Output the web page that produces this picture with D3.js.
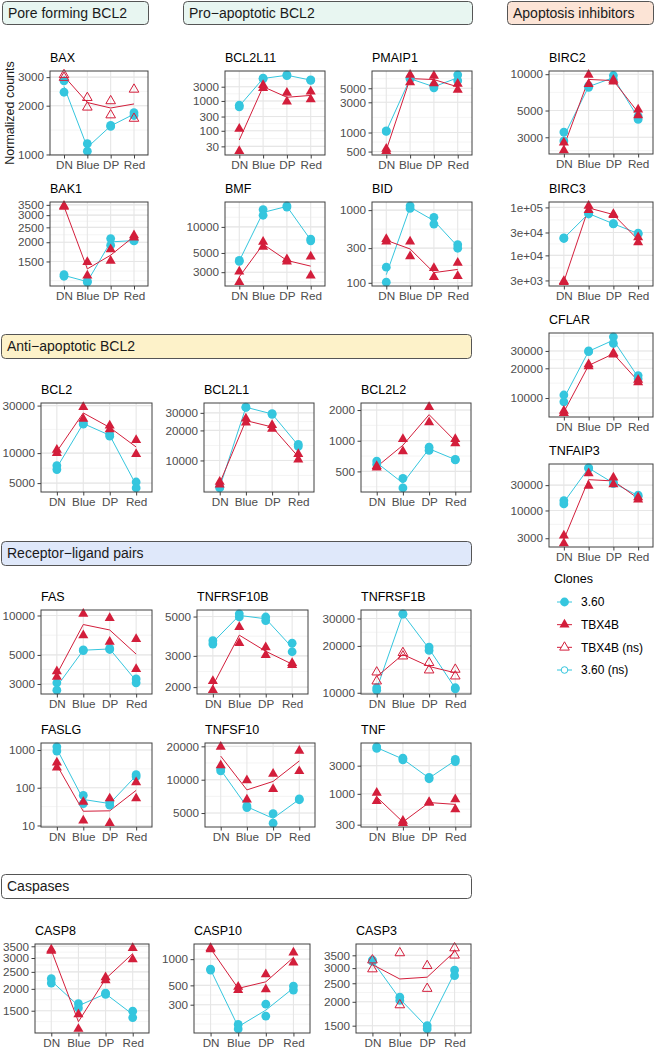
<!DOCTYPE html>
<html><head><meta charset="utf-8">
<script src="https://cdn.jsdelivr.net/npm/d3@7"></script>
<style>
body{margin:0;background:#fff}
svg{display:block;font-family:"Liberation Sans",Arial,Helvetica,sans-serif}
</style>
</head><body>
<svg id="chart" width="656" height="1049"></svg>
<script>
// ---------------- DATA ----------------
const stages = ["DN", "Blue", "DP", "Red"];
const cloneNames = ["3.60", "TBX4B"];
// values: two replicates per stage, order DN, DN, Blue, Blue, DP, DP, Red, Red
const BAX_360 = [2845, 2421, 1166, 1048, 1510, 1490, 1810, 1740];
const BAX_TBX = [3100, 2980, 2240, 1954, 2139, 1750, 2520, 1667];
const BAK1_360 = [1232, 1202, 1117, 1100, 2112, 1915, 2060, 2040];
const BAK1_TBX = [3450, 3400, 1485, 1213, 1796, 1513, 2218, 2143];
const BCL2L11_360 = [716, 628, 5810, 5500, 7500, 7000, 5090, 4900];
const BCL2L11_TBX = [117, 20.7, 3375, 2670, 1860, 946, 2054, 1140];
const BMF_360 = [4100, 4000, 15830, 13620, 17500, 16950, 7230, 6900];
const BMF_TBX = [3050, 2300, 6730, 5900, 4230, 3970, 4530, 2740];
const PMAIP1_360 = [1063, 1040, 7150, 7000, 5500, 5070, 8150, 6580];
const PMAIP1_TBX = [552, 507, 8150, 6200, 7870, 5970, 5850, 4720];
const BID_360 = [164, 102, 1146, 1055, 795, 643, 335, 299];
const BID_TBX = [401, 368, 368, 232, 159, 120, 188, 124];
const BIRC2_360 = [3316, 2796, 7780, 8000, 9750, 8995, 4217, 4500];
const BIRC2_TBX = [2710, 2344, 9890, 8280, 9000, 8700, 5090, 4570];
const BIRC3_360 = [23100, 22500, 72900, 76000, 45200, 46000, 28000, 29000];
const BIRC3_TBX = [2760, 2900, 108000, 88300, 72900, 69000, 23800, 18700];
const CFLAR_360 = [10730, 9160, 30000, 29500, 41700, 35700, 16900, 15640];
const CFLAR_TBX = [7410, 7020, 21900, 20900, 28600, 27500, 15270, 14450];
const TNFAIP3_360 = [15300, 13300, 63700, 62000, 33600, 32000, 19500, 18500];
const TNFAIP3_TBX = [3357, 2417, 49900, 29000, 41500, 31200, 17700, 16000];
const BCL2_360 = [7485, 6830, 20100, 19500, 15400, 14800, 5130, 4470];
const BCL2_TBX = [10780, 10000, 29000, 22070, 18930, 17300, 13540, 9800];
const BCL2L1_360 = [5450, 5300, 34300, 34000, 29500, 29000, 14500, 13800];
const BCL2L1_TBX = [6100, 5730, 26240, 24000, 22650, 20700, 11600, 10200];
const BCL2L2_360 = [631, 586, 428, 344, 865, 803, 655, 650];
const BCL2L2_TBX = [565, 545, 1038, 785, 2140, 1517, 1038, 945];
const FAS_360 = [3063, 2690, 5460, 5400, 5610, 5500, 3280, 3063];
const FAS_TBX = [3740, 3400, 10300, 7070, 9540, 6300, 6600, 3900];
const TNFRSF10B_360 = [3653, 3500, 5180, 4970, 4970, 4745, 3540, 3165];
const TNFRSF10B_TBX = [2165, 1922, 4355, 3540, 3350, 3030, 2730, 2660];
const TNFRSF1B_360 = [10770, 10390, 32150, 32000, 19650, 18700, 10770, 10600];
const TNFRSF1B_TBX = [13560, 11870, 18070, 17180, 15590, 13970, 14120, 12780];
const FASLG_360 = [1216, 940, 63, 38, 42, 34.5, 222, 197];
const FASLG_TBX = [466, 344, 42, 13.5, 52, 11.5, 140, 52];
const TNFSF10_360 = [12500, 12000, 5600, 5800, 4950, 4050, 6590, 6700];
const TNFSF10_TBX = [19800, 13460, 9880, 6620, 11300, 8230, 18240, 11930];
const TNF_360 = [6260, 5890, 4010, 3760, 1897, 1800, 3850, 3515];
const TNF_TBX = [1040, 752, 348, 318, 723, 700, 803, 546];
const CASP8_360 = [2285, 2159, 1645, 1556, 1888, 1860, 1491, 1370];
const CASP8_TBX = [3350, 3300, 1429, 1180, 2330, 2234, 3420, 2952];
const CASP10_360 = [766, 750, 178, 158, 304, 222, 491, 442];
const CASP10_TBX = [1341, 1300, 482, 442, 670, 450, 1193, 914];
const CASP3_360 = [3303, 3250, 2114, 2032, 1500, 1442, 2930, 2740];
const CASP3_TBX = [3303, 2966, 3600, 1924, 3085, 2345, 3820, 3500];

// tick values per gene
const BAX_ticks = [1000, 2000, 3000];
const BAK1_ticks = [1500, 2000, 2500, 3000, 3500];
const BCL2L11_ticks = [30, 100, 300, 1000, 3000];
const BMF_ticks = [3000, 5000, 10000];
const PMAIP1_ticks = [500, 1000, 3000, 5000];
const BID_ticks = [100, 300, 1000];
const BIRC2_ticks = [3000, 5000, 10000];
const BIRC3_ticks = [3000, 10000, 30000, 100000];
const BIRC3_tickLabels = ["3e+03", "1e+04", "3e+04", "1e+05"];
const CFLAR_ticks = [10000, 20000, 30000];
const TNFAIP3_ticks = [3000, 10000, 30000];
const BCL2_ticks = [5000, 10000, 30000];
const BCL2L1_ticks = [10000, 20000, 30000];
const BCL2L2_ticks = [500, 1000, 2000];
const FAS_ticks = [3000, 5000, 10000];
const TNFRSF10B_ticks = [2000, 3000, 5000];
const TNFRSF1B_ticks = [10000, 20000, 30000];
const FASLG_ticks = [10, 100, 1000];
const TNFSF10_ticks = [5000, 10000, 20000];
const TNF_ticks = [300, 1000, 3000];
const CASP8_ticks = [1500, 2000, 2500, 3000, 3500];
const CASP10_ticks = [300, 500, 1000];
const CASP3_ticks = [1500, 2000, 2500, 3000, 3500];

// genes where the TBX4B difference is not significant (open triangles)
const nsTBX = ["BAX", "TNFRSF1B", "CASP3"];

const sectionLabels = ["Pore forming BCL2", "Pro\u2212apoptotic BCL2", "Apoptosis inhibitors",
  "Anti\u2212apoptotic BCL2", "Receptor\u2212ligand pairs", "Caspases"];
const legendLabels = ["3.60", "TBX4B", "TBX4B (ns)", "3.60 (ns)"];

// ---------------- TABLE (built from arrays) ----------------
const geneData = {
  BAX: [BAX_360, BAX_TBX, BAX_ticks], BAK1: [BAK1_360, BAK1_TBX, BAK1_ticks],
  BCL2L11: [BCL2L11_360, BCL2L11_TBX, BCL2L11_ticks], BMF: [BMF_360, BMF_TBX, BMF_ticks],
  PMAIP1: [PMAIP1_360, PMAIP1_TBX, PMAIP1_ticks], BID: [BID_360, BID_TBX, BID_ticks],
  BIRC2: [BIRC2_360, BIRC2_TBX, BIRC2_ticks], BIRC3: [BIRC3_360, BIRC3_TBX, BIRC3_ticks, BIRC3_tickLabels],
  CFLAR: [CFLAR_360, CFLAR_TBX, CFLAR_ticks], TNFAIP3: [TNFAIP3_360, TNFAIP3_TBX, TNFAIP3_ticks],
  BCL2: [BCL2_360, BCL2_TBX, BCL2_ticks], BCL2L1: [BCL2L1_360, BCL2L1_TBX, BCL2L1_ticks],
  BCL2L2: [BCL2L2_360, BCL2L2_TBX, BCL2L2_ticks], FAS: [FAS_360, FAS_TBX, FAS_ticks],
  TNFRSF10B: [TNFRSF10B_360, TNFRSF10B_TBX, TNFRSF10B_ticks], TNFRSF1B: [TNFRSF1B_360, TNFRSF1B_TBX, TNFRSF1B_ticks],
  FASLG: [FASLG_360, FASLG_TBX, FASLG_ticks], TNFSF10: [TNFSF10_360, TNFSF10_TBX, TNFSF10_ticks],
  TNF: [TNF_360, TNF_TBX, TNF_ticks], CASP8: [CASP8_360, CASP8_TBX, CASP8_ticks],
  CASP10: [CASP10_360, CASP10_TBX, CASP10_ticks], CASP3: [CASP3_360, CASP3_TBX, CASP3_ticks]
};

// ---------------- LAYOUT (positions only) ----------------
const panels = [
  ["BAX", 50, 148, 71, 155], ["BAK1", 50, 148, 202, 286],
  ["BCL2L11", 225, 325, 71, 155], ["BMF", 225, 325, 202, 286],
  ["PMAIP1", 372, 472, 71, 155], ["BID", 372, 472, 202, 286],
  ["BIRC2", 549, 653, 71, 154], ["BIRC3", 549, 653, 202, 286],
  ["CFLAR", 549, 653, 333, 417], ["TNFAIP3", 549, 653, 464, 547],
  ["BCL2", 41, 152, 403, 492], ["BCL2L1", 204, 314, 403, 492], ["BCL2L2", 361, 471, 403, 492],
  ["FAS", 41, 152, 610, 694], ["TNFRSF10B", 197, 308, 610, 694], ["TNFRSF1B", 361, 471, 610, 694],
  ["FASLG", 41, 152, 743, 827], ["TNFSF10", 205, 315, 743, 827], ["TNF", 361, 471, 743, 827],
  ["CASP8", 35, 149, 944, 1033], ["CASP10", 194, 310, 944, 1033], ["CASP3", 356, 471, 944, 1033]
];
const headerBoxes = [
  [2, 148, 1, 24, "#e8f6f1"], [183, 472, 1, 24, "#e8f6f1"], [507, 653, 1, 24, "#fce4d6"],
  [1, 471, 334, 358, "#fdf2c9"], [1, 471, 541, 565, "#dfe8fa"], [1, 471, 874, 898, "#ffffff"]
];

const COL = {"3.60": "#35c6de", "TBX4B": "#d31e3b"};
const svg = d3.select("#chart");

// headers
headerBoxes.forEach((b, i) => {
  svg.append("rect").attr("x", b[0] + 0.5).attr("y", b[2] + 0.5)
    .attr("width", b[1] - b[0]).attr("height", b[3] - b[2])
    .attr("rx", 4).attr("fill", b[4]).attr("stroke", "#555").attr("stroke-width", 1);
  svg.append("text").attr("x", b[0] + 6).attr("y", b[2] + 16.5)
    .attr("font-size", 14).attr("fill", "#1a1a1a").text(sectionLabels[i]);
});

// y-axis title
svg.append("text").attr("transform", "translate(13.5,113) rotate(-90)")
  .attr("text-anchor", "middle").attr("font-size", 12.5).attr("fill", "#1a1a1a")
  .text("Normalized counts");

function minorBreaks(majLog, lo, hi) {
  let b = majLog.slice();
  const bd = b[1] - b[0];
  if (lo < b[0]) b.unshift(b[0] - bd);
  if (hi > b[b.length - 1]) b.push(b[b.length - 1] + bd);
  const out = [];
  for (let i = 0; i < b.length - 1; i++) out.push(b[i], (b[i] + b[i + 1]) / 2);
  out.push(b[b.length - 1]);
  return out.filter(v => v >= lo && v <= hi);
}

const triSize = 44, circR = 4.4;

panels.forEach(p => {
  const [gene, x0, x1, y0, y1] = p;
  const [v360, vTBX, ticks, tickLabels] = geneData[gene];
  const ns = nsTBX.includes(gene);
  const series = [
    {clone: "3.60", vals: v360, open: false},
    {clone: "TBX4B", vals: vTBX, open: ns}
  ];
  const all = v360.concat(vTBX).map(Math.log10);
  const lo = d3.min(all), hi = d3.max(all), r = hi - lo;
  const dLo = lo - 0.05 * r, dHi = hi + 0.05 * r;
  const x = d3.scalePoint().domain(stages).range([x0, x1]).padding(0.6);
  const y = d3.scaleLog().domain([Math.pow(10, dLo), Math.pow(10, dHi)]).range([y1, y0]);
  const g = svg.append("g");

  g.append("rect").attr("x", x0).attr("y", y0).attr("width", x1 - x0).attr("height", y1 - y0).attr("fill", "#fff");
  // minor grid
  minorBreaks(ticks.map(Math.log10), dLo, dHi).forEach(lv => {
    const yy = y(Math.pow(10, lv));
    g.append("line").attr("x1", x0).attr("x2", x1).attr("y1", yy).attr("y2", yy)
      .attr("stroke", "#ececec").attr("stroke-width", 0.6);
  });
  // major grid
  ticks.forEach(t => {
    const yy = y(t);
    g.append("line").attr("x1", x0).attr("x2", x1).attr("y1", yy).attr("y2", yy)
      .attr("stroke", "#e6e6e6").attr("stroke-width", 1.1);
  });
  stages.forEach(s => {
    g.append("line").attr("x1", x(s)).attr("x2", x(s)).attr("y1", y0).attr("y2", y1)
      .attr("stroke", "#e6e6e6").attr("stroke-width", 1.1);
  });

  // mean lines (geometric mean, as on log scale)
  series.forEach(s => {
    const means = stages.map((st, i) => ({st, v: Math.pow(10, d3.mean([s.vals[2 * i], s.vals[2 * i + 1]].map(Math.log10)))}));
    g.append("path").datum(means)
      .attr("d", d3.line().x(d => x(d.st)).y(d => y(d.v)))
      .attr("fill", "none").attr("stroke", COL[s.clone]).attr("stroke-width", 1);
  });
  // points
  series.forEach(s => {
    const pts = s.vals.map((v, i) => ({st: stages[Math.floor(i / 2)], v}));
    if (s.clone === "3.60") {
      g.selectAll(null).data(pts).enter().append("circle")
        .attr("cx", d => x(d.st)).attr("cy", d => y(d.v)).attr("r", circR)
        .attr("fill", COL[s.clone]);
    } else {
      g.selectAll(null).data(pts).enter().append("path")
        .attr("transform", d => `translate(${x(d.st)},${y(d.v)})`)
        .attr("d", d3.symbol(d3.symbolTriangle, s.open ? 40 : triSize))
        .attr("fill", s.open ? "none" : COL[s.clone])
        .attr("stroke", s.open ? COL[s.clone] : "none").attr("stroke-width", 1);
    }
  });

  // border
  g.append("rect").attr("x", x0).attr("y", y0).attr("width", x1 - x0).attr("height", y1 - y0)
    .attr("fill", "none").attr("stroke", "#404040").attr("stroke-width", 1);

  // axes
  const ya = g.append("g").attr("transform", `translate(${x0},0)`)
    .call(d3.axisLeft(y).tickValues(ticks)
      .tickFormat((d, i) => tickLabels ? tickLabels[i] : String(d))
      .tickSizeInner(3.5).tickSizeOuter(0).tickPadding(2.5));
  const xa = g.append("g").attr("transform", `translate(0,${y1})`)
    .call(d3.axisBottom(x).tickSizeInner(3.5).tickSizeOuter(0).tickPadding(2));
  [ya, xa].forEach(a => {
    a.select(".domain").remove();
    a.selectAll(".tick line").attr("stroke", "#404040");
    a.selectAll(".tick text").attr("fill", "#4d4d4d").attr("font-size", 11.7)
      .attr("font-family", '"Liberation Sans",Arial,Helvetica,sans-serif');
  });

  // title
  g.append("text").attr("x", x0).attr("y", y0 - 9).attr("font-size", 12.5).attr("fill", "#000").text(gene);
});

// legend
const lg = svg.append("g");
lg.append("text").attr("x", 554).attr("y", 583).attr("font-size", 12.5).attr("fill", "#000").text("Clones");
const keys = [
  {c: "3.60", shape: "circle", open: false},
  {c: "TBX4B", shape: "tri", open: false},
  {c: "TBX4B", shape: "tri", open: true},
  {c: "3.60", shape: "circle", open: true}
];
const legY = d3.scalePoint().domain(legendLabels).range([602, 670]);
keys.forEach((k, i) => {
  const yy = legY(legendLabels[i]);
  lg.append("line").attr("x1", 557).attr("x2", 572).attr("y1", yy).attr("y2", yy)
    .attr("stroke", COL[k.c]).attr("stroke-width", 1);
  if (k.shape === "circle") {
    lg.append("circle").attr("cx", 564.5).attr("cy", yy).attr("r", k.open ? 3.3 : circR)
      .attr("fill", k.open ? "#fff" : COL[k.c]).attr("stroke", k.open ? COL[k.c] : "none");
  } else {
    lg.append("path").attr("transform", `translate(564.5,${yy})`)
      .attr("d", d3.symbol(d3.symbolTriangle, k.open ? 40 : triSize))
      .attr("fill", k.open ? "#fff" : COL[k.c]).attr("stroke", k.open ? COL[k.c] : "none");
  }
  lg.append("text").attr("x", 581).attr("y", yy).attr("dy", "0.36em")
    .attr("font-size", 12).attr("fill", "#000").text(legendLabels[i]);
});
</script>
</body></html>
